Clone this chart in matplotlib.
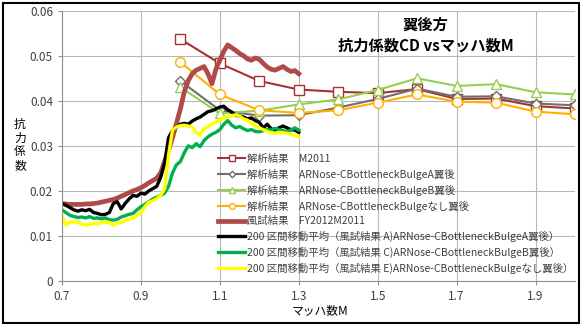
import matplotlib
matplotlib.use('Agg')
import matplotlib.pyplot as plt
from matplotlib.patches import Rectangle

plt.rcParams['font.family'] = ['Noto Sans CJK JP', 'DejaVu Sans']

# analysis results (CFD) at discrete Mach numbers
mach_cfd = [1.0, 1.1, 1.2, 1.3, 1.4, 1.5, 1.6, 1.7, 1.8, 1.9, 2.0]
cd_m2011 = [0.0537, 0.0483, 0.0444, 0.0425, 0.0420, 0.0417, 0.0426, 0.0404, 0.0405, 0.0388, 0.0383]
cd_a = [0.0444, 0.0379, 0.0367, 0.0368, 0.0385, 0.0404, 0.0427, 0.0409, 0.0410, 0.0394, 0.0390]
cd_b = [0.0430, 0.0372, 0.0378, 0.0392, 0.0403, 0.0424, 0.0450, 0.0433, 0.0437, 0.0419, 0.0414]
cd_none = [0.0486, 0.0414, 0.0379, 0.0373, 0.0379, 0.0396, 0.0414, 0.0398, 0.0396, 0.0376, 0.0370]

# wind tunnel results
mach_wt = [0.70, 0.71, 0.72, 0.73, 0.74, 0.75, 0.76, 0.77, 0.78, 0.79,
           0.80, 0.81, 0.82, 0.83, 0.84, 0.85, 0.86, 0.87, 0.88, 0.89,
           0.90, 0.91, 0.92, 0.93, 0.94, 0.95, 0.96, 0.97, 0.98, 0.99,
           1.00, 1.01, 1.02, 1.03, 1.04, 1.05, 1.06, 1.07, 1.08, 1.09,
           1.10, 1.11, 1.12, 1.13, 1.14, 1.15, 1.16, 1.17, 1.18, 1.19,
           1.20, 1.21, 1.22, 1.23, 1.24, 1.25, 1.26, 1.27, 1.28, 1.29, 1.30]
cd_wt = [0.0172, 0.0171, 0.0170, 0.0170, 0.0170, 0.0170, 0.0171, 0.0171, 0.0172, 0.0173,
         0.0175, 0.0177, 0.0179, 0.0181, 0.0184, 0.0188, 0.0192, 0.0196, 0.0200, 0.0203,
         0.0207, 0.0212, 0.0218, 0.0223, 0.0228, 0.0240, 0.0265, 0.0290, 0.0318, 0.0350,
         0.0382, 0.0420, 0.0445, 0.0460, 0.0468, 0.0472, 0.0476, 0.0460, 0.0438, 0.0470,
         0.0490, 0.0510, 0.0524, 0.0518, 0.0512, 0.0505, 0.0500, 0.0493, 0.0490, 0.0495,
         0.0492, 0.0483, 0.0475, 0.0470, 0.0468, 0.0472, 0.0476, 0.0470, 0.0465, 0.0467, 0.0460]
cd_avg_a = [0.0172, 0.0168, 0.0163, 0.0158, 0.0155, 0.0158, 0.0156, 0.0159, 0.0152, 0.0150,
            0.0147, 0.0148, 0.0152, 0.0172, 0.0176, 0.0160, 0.0172, 0.0182, 0.0190, 0.0188,
            0.0195, 0.0193, 0.0200, 0.0205, 0.0210, 0.0230, 0.0262, 0.0318, 0.0334, 0.0342,
            0.0348, 0.0350, 0.0348, 0.0355, 0.0360, 0.0364, 0.0370, 0.0376, 0.0378, 0.0382,
            0.0386, 0.0388, 0.0380, 0.0375, 0.0368, 0.0366, 0.0364, 0.0360, 0.0362, 0.0356,
            0.0352, 0.0340, 0.0348, 0.0338, 0.0335, 0.0340, 0.0344, 0.0340, 0.0336, 0.0335, 0.0330]
cd_avg_c = [0.0158, 0.0152, 0.0146, 0.0143, 0.0141, 0.0142, 0.0140, 0.0143, 0.0139, 0.0140,
            0.0138, 0.0140, 0.0136, 0.0135, 0.0137, 0.0142, 0.0145, 0.0148, 0.0150, 0.0158,
            0.0165, 0.0170, 0.0176, 0.0182, 0.0186, 0.0190, 0.0195, 0.0210, 0.0240, 0.0258,
            0.0265, 0.0285, 0.0300, 0.0296, 0.0305, 0.0298, 0.0312, 0.0320, 0.0326, 0.0330,
            0.0336, 0.0348, 0.0356, 0.0346, 0.0340, 0.0343, 0.0338, 0.0334, 0.0336, 0.0332,
            0.0331, 0.0334, 0.0336, 0.0335, 0.0339, 0.0336, 0.0334, 0.0331, 0.0335, 0.0340, 0.0335]
cd_avg_e = [0.0145, 0.0125, 0.0130, 0.0132, 0.0130, 0.0126, 0.0124, 0.0126, 0.0128, 0.0127,
            0.0129, 0.0131, 0.0130, 0.0124, 0.0128, 0.0130, 0.0134, 0.0137, 0.0140, 0.0145,
            0.0152, 0.0165, 0.0175, 0.0178, 0.0183, 0.0190, 0.0205, 0.0280, 0.0335, 0.0342,
            0.0345, 0.0346, 0.0344, 0.0342, 0.0330, 0.0324, 0.0338, 0.0342, 0.0348, 0.0353,
            0.0357, 0.0362, 0.0365, 0.0367, 0.0369, 0.0366, 0.0360, 0.0357, 0.0350, 0.0344,
            0.0340, 0.0336, 0.0332, 0.0329, 0.0328, 0.0330, 0.0329, 0.0328, 0.0326, 0.0323, 0.0320]

x_ticks = [0.7, 0.9, 1.1, 1.3, 1.5, 1.7, 1.9]
y_ticks = [0, 0.01, 0.02, 0.03, 0.04, 0.05, 0.06]
y_tick_labels = ['0', '0.01', '0.02', '0.03', '0.04', '0.05', '0.06']

fig = plt.figure(figsize=(5.82, 3.26), dpi=100)
ax = fig.add_axes([62/582, 1-281/326, (575-62)/582, (281-10.7)/326])

mk = dict(markerfacecolor='white', markeredgewidth=1.0)
ax.plot(mach_cfd, cd_m2011, color='#a83232', lw=1.5, marker='s', markersize=7, markeredgecolor='#a83232', **mk,
        label='解析結果　M2011')
ax.plot(mach_cfd, cd_a, color='#6e6e6e', lw=1.5, marker='D', markersize=5.5, markeredgecolor='#6e6e6e', **mk,
        label='解析結果　ARNose-CBottleneckBulgeA翼後')
ax.plot(mach_cfd, cd_b, color='#92d050', lw=1.5, marker='^', markersize=7, markeredgecolor='#92d050', **mk,
        label='解析結果　ARNose-CBottleneckBulgeB翼後')
ax.plot(mach_cfd, cd_none, color='#ffb000', lw=1.5, marker='o', markersize=7, markeredgecolor='#ffb000', **mk,
        label='解析結果　ARNose-CBottleneckBulgeなし翼後')
ax.plot(mach_wt, cd_wt, color='#b04a48', lw=3.4, label='風試結果　FY2012M2011')
ax.plot(mach_wt, cd_avg_a, color='black', lw=2.4,
        label='200 区間移動平均（風試結果 A)ARNose-CBottleneckBulgeA翼後）')
ax.plot(mach_wt, cd_avg_c, color='#00b050', lw=2.4,
        label='200 区間移動平均（風試結果 C)ARNose-CBottleneckBulgeB翼後）')
ax.plot(mach_wt, cd_avg_e, color='#ffff00', lw=2.4,
        label='200 区間移動平均（風試結果 E)ARNose-CBottleneckBulgeなし翼後）')

ax.set_xlim(0.7, 2.0)
ax.set_ylim(0, 0.06)
ax.set_xticks(x_ticks)
ax.set_xticklabels([str(t) for t in x_ticks])
ax.set_yticks(y_ticks)
ax.set_yticklabels(y_tick_labels)
ax.tick_params(labelsize=8.5, colors='#404040', length=3, color='#909090')
ax.grid(color='#b8b8b8', lw=0.8)
ax.set_axisbelow(True)
for s in ['top', 'right']:
    ax.spines[s].set_visible(False)
for s in ['left', 'bottom']:
    ax.spines[s].set_color('#909090')

ax.legend(loc='upper left', bbox_to_anchor=(218/582, 1-154/326), bbox_transform=fig.transFigure,
          frameon=False, fontsize=7.5, labelcolor='#404040', handlelength=2.6, handletextpad=0.2,
          labelspacing=0.45, borderpad=0, borderaxespad=0, markerscale=0.6)

fig.text(425/582, 1-25/326, '翼後方', ha='center', va='center', fontsize=11, weight='bold')
fig.text(426/582, 1-46/326, '抗力係数CD vsマッハ数M', ha='center', va='center', fontsize=11, weight='bold')
fig.text(20/582, 1-145/326, '抗\n力\n係\n数', ha='center', va='center', fontsize=8.5, linespacing=1.1)
fig.text(320/582, 1-311/326, 'マッハ数M', ha='center', va='center', fontsize=8.5)

fig.patches.append(Rectangle((0.006, 0.008), 0.988, 0.984, transform=fig.transFigure,
                             fill=False, ec='black', lw=1.5))

fig.savefig('out.png', dpi=100)
